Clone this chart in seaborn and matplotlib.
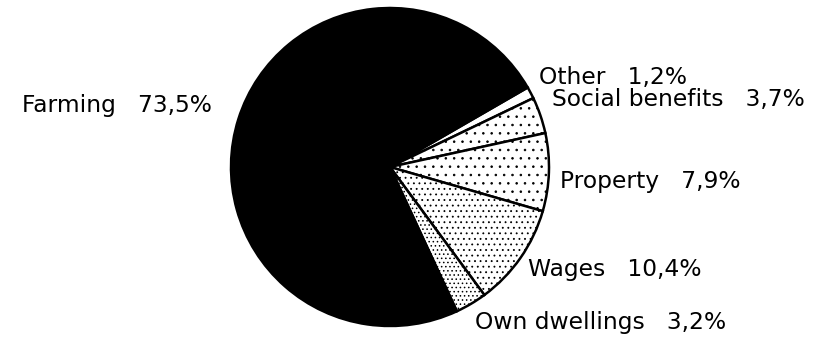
import matplotlib
matplotlib.use("Agg")
import matplotlib.pyplot as plt
import seaborn as sns

# Income sources (share of total, %)
sources = ["Other", "Social benefits", "Property", "Wages", "Own dwellings", "Farming"]
shares = [1.2, 3.7, 7.9, 10.4, 3.2, 73.5]
share_labels = ["1,2%", "3,7%", "7,9%", "10,4%", "3,2%", "73,5%"]
fills = ["white", "white", "white", "white", "white", "black"]
hatches = ["", "..", "..", "...", "....", ""]

sns.set_theme(style="white")
plt.rcParams["font.family"] = ["DejaVu Sans"]
plt.rcParams["hatch.linewidth"] = 0.6
plt.rcParams["hatch.color"] = "black"

W, H = 834, 341
fig = plt.figure(figsize=(W / 100, H / 100), dpi=100)
ax = fig.add_axes([0, 0, 1, 1])

cx, cy, r = 390, H - 167, 159
wedges, _ = ax.pie(
    shares,
    startangle=30,
    counterclock=False,
    colors=fills,
    center=(cx, cy),
    radius=r,
    wedgeprops=dict(edgecolor="black", linewidth=1.8),
    frame=False,
)
for w, h in zip(wedges, hatches):
    w.set_hatch(h)
ax.set_xlim(0, W)
ax.set_ylim(0, H)
ax.set_aspect("equal")
ax.set_axis_off()

# label anchor: left x and baseline y, measured from the top
label_pos = {
    "Other": (539, 84),
    "Social benefits": (552, 106),
    "Property": (560, 188),
    "Wages": (528, 276),
    "Own dwellings": (475, 329),
    "Farming": (22, 112),
}
for name, pct in zip(sources, share_labels):
    x, y = label_pos[name]
    ax.text(x, H - y, f"{name}   {pct}", ha="left", va="baseline",
            fontsize=16.8, color="black")

fig.savefig("out.png", dpi=100, facecolor="white")
